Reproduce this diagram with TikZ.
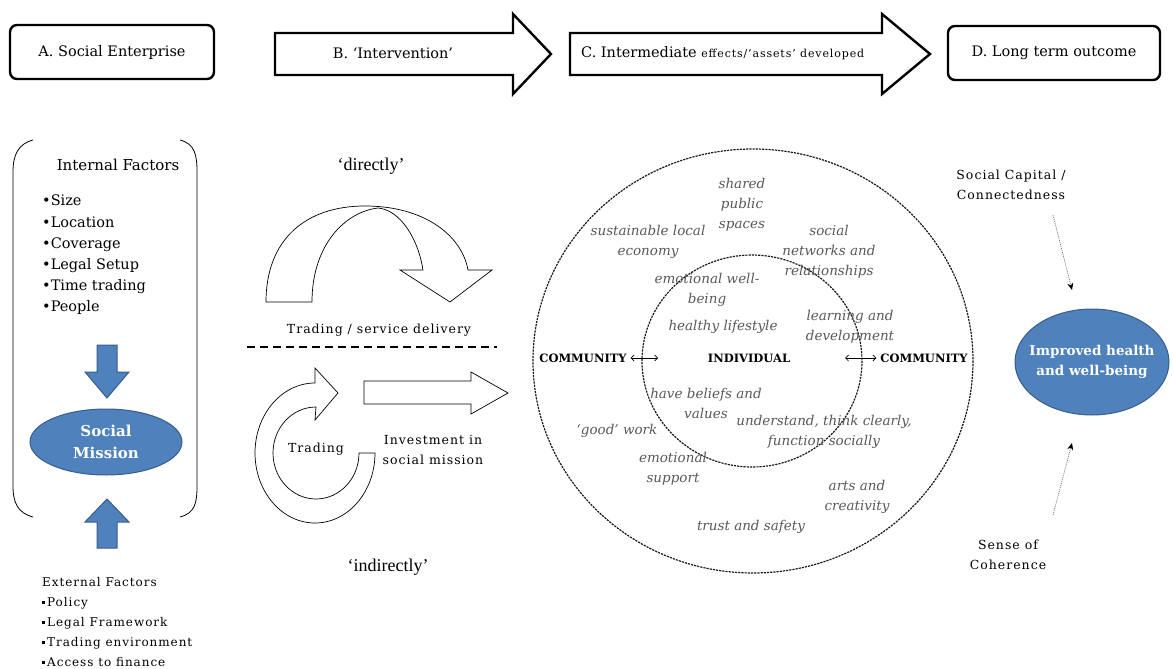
\documentclass[tikz,border=0pt]{standalone}
\usepackage{fontspec}
\setmainfont{DejaVu Serif}
\newfontfamily\timesfont{Liberation Serif}
\newfontfamily\spacedfont[LetterSpace=8]{DejaVu Serif}
\usetikzlibrary{arrows.meta,shapes.geometric}

\definecolor{missionblue}{RGB}{79,129,189}
\definecolor{missionedge}{RGB}{56,93,138}
\definecolor{assetgrey}{RGB}{89,89,89}

% small square bullet of the external factors
\newcommand{\sqb}{\raisebox{0.3ex}{\rule{3pt}{3pt}}\,}

\tikzset{
  hdrbox/.style={draw, line width=2.4pt, rounded corners=7pt, font=\fontsize{14.5}{16}\selectfont},
  hdrarrow/.style={draw, line width=2.4pt, fill=white},
  hollow/.style={draw, line width=0.7pt, fill=white},
  bluearrow/.style={fill=missionblue, draw=missionedge, line width=1pt},
  mission/.style={ellipse, fill=missionblue, draw=missionedge, line width=1pt},
  missiontext/.style={text=white, align=center, inner sep=0pt},
  lbl/.style={font=\spacedfont\fontsize{12.5}{20}\selectfont, align=center, inner sep=0pt},
  asset/.style={text=assetgrey, font=\itshape\fontsize{13.5}{20}\selectfont, align=center, inner sep=0pt},
  level/.style={font=\bfseries\fontsize{11.5}{13}\selectfont, inner sep=0pt, outer sep=4pt},
  ring/.style={draw=black!90, line width=1.2pt, dash pattern=on 2.2pt off 1pt},
  link/.style={draw=black!55, line width=0.7pt, dash pattern=on 1pt off 1pt, -{Stealth[black, length=7pt, width=6pt]}},
  twoway/.style={line width=0.7pt, {Straight Barb[length=3pt]}-{Straight Barb[length=3pt]}}
}

\begin{document}
\begin{tikzpicture}[x=1pt, y=-1pt]
  \useasboundingbox (0,0) rectangle (1173,669);

  % header row
  \node[hdrbox, minimum width=204, minimum height=54] (boxA) at (112,52) {A. Social Enterprise};
  \draw[hdrarrow] (275,33) -- (513,33) -- (513,14) -- (551,54) -- (513,94) -- (513,75) -- (275,75) -- cycle;
  \node[font=\fontsize{14.5}{16}\selectfont] (labelB) at (393,53) {B. ‘Intervention’};
  \draw[hdrarrow] (570,33) -- (882,33) -- (882,14) -- (930,54) -- (882,94) -- (882,75) -- (570,75) -- cycle;
  \node[anchor=west, inner sep=0pt] (labelC) at (581,53)
    {\fontsize{14.5}{16}\selectfont C. Intermediate {\spacedfont\fontsize{11}{16}\selectfont effects/‘assets’ developed}};
  \node[hdrbox, minimum width=212, minimum height=54] (boxD) at (1054,53) {D. Long term outcome};

  % social enterprise
  \draw[line width=0.8pt] (33,140) .. controls (18,144) and (13,155) .. (13,172) -- (13,486)
    .. controls (13,503) and (18,513) .. (33,517);
  \draw[line width=0.8pt] (180,140) .. controls (195,144) and (197,155) .. (197,172) -- (197,486)
    .. controls (197,503) and (195,513) .. (180,517);
  \node[font=\fontsize{15}{16}\selectfont] (internal) at (118,165) {Internal Factors};
  \node[font=\fontsize{14.5}{21.2}\selectfont, align=left, anchor=north west, inner sep=0pt] (intlist) at (42,195)
    {•Size\\•Location\\•Coverage\\•Legal Setup\\•Time trading\\•People};
  \draw[bluearrow] (97,345) -- (117,345) -- (117,372) -- (129,372) -- (107,398) -- (85,372) -- (97,372) -- cycle;
  \node[mission, minimum width=152, minimum height=66] (mission) at (106,442) {};
  \node[missiontext, font=\bfseries\fontsize{15}{22}\selectfont] (missionlabel) at (mission) {Social\\Mission};
  \draw[bluearrow] (107,499) -- (129,522) -- (117,522) -- (117,548) -- (97,548) -- (97,522) -- (85,522) -- cycle;
  \node[font=\spacedfont\fontsize{12}{20}\selectfont, align=left, anchor=north west, inner sep=0pt] (external) at (42,577)
    {External Factors\\\sqb Policy\\\sqb Legal Framework\\\sqb Trading environment\\\sqb Access to finance};

  % intervention
  \node[font=\timesfont\fontsize{18}{20}\selectfont] (directly) at (371,166) {‘directly’};
  \draw[hollow] (266,302) .. controls (266,240) and (305,206) .. (365,206)
    .. controls (425,206) and (462,236) .. (468,270) -- (492,270) -- (450,302) -- (400,270) -- (423,270)
    .. controls (418,238) and (400,210) .. (378,208) .. controls (345,212) and (312,245) .. (312,302) -- cycle;
  \node[lbl] (delivery) at (379,330) {Trading / service delivery};
  \draw[line width=1.8pt, dash pattern=on 8pt off 5pt] (247,347) -- (497,347);
  \draw[hollow] (375,453) arc[start angle=0, end angle=270, x radius=60, y radius=70]
    -- (315,368) -- (338,393) -- (315,420) -- (316,407)
    arc[start angle=270, end angle=0, x radius=43, y radius=46] -- cycle;
  \draw[hollow] (364,381) -- (471,381) -- (471,372) -- (508,393) -- (471,414) -- (471,404) -- (364,404) -- cycle;
  \node[lbl] (trading) at (316,449) {Trading};
  \node[lbl] (investment) at (433,450) {Investment in\\social mission};
  \node[font=\timesfont\fontsize{18}{20}\selectfont] (indirectly) at (388,567) {‘indirectly’};

  % assets
  \draw[ring] (753,361) ellipse [x radius=220, y radius=212];
  \draw[ring] (752,361) ellipse [x radius=110, y radius=106];
  \node[level] (commleft) at (583,358) {COMMUNITY};
  \node[level] (individual) at (749,358) {INDIVIDUAL};
  \node[level] (commright) at (924,358) {COMMUNITY};
  \coordinate (innerL) at (658,358);
  \coordinate (innerR) at (845,358);
  \draw[twoway] (commleft.east) -- (innerL);
  \draw[twoway] (innerR) -- (commright.west);
  \node[asset] (shared) at (742,205) {shared\\public\\spaces};
  \node[asset] (economy) at (648,242) {sustainable local\\economy};
  \node[asset] (networks) at (829,252) {social\\networks and\\relationships};
  \node[asset] (emowell) at (707,290) {emotional well-\\being};
  \node[asset] (lifestyle) at (723,327) {healthy lifestyle};
  \node[asset] (learning) at (850,327) {learning and\\development};
  \node[asset] (beliefs) at (706,403) {have beliefs and\\values};
  \node[asset] (understand) at (824,432) {understand, think clearly,\\function socially};
  \node[asset] (goodwork) at (617,431) {‘good’ work};
  \node[asset] (support) at (673,469) {emotional\\support};
  \node[asset] (arts) at (857,497) {arts and\\creativity};
  \node[asset] (trust) at (751,527) {trust and safety};

  % outcome
  \node[lbl] (capital) at (1011,185) {Social Capital /\\Connectedness};
  \node[mission, minimum width=154, minimum height=106] (health) at (1092,362) {};
  \node[missiontext, font=\bfseries\fontsize{13.5}{20}\selectfont] (healthlabel) at (health) {Improved health\\and well-being};
  \node[lbl] (coherence) at (1008,555) {Sense of\\Coherence};
  \coordinate (capstart) at (1053,215);
  \coordinate (capend) at (1072,290);
  \coordinate (cohstart) at (1053,515);
  \coordinate (cohend) at (1072,443);
  \draw[link] (capstart) -- (capend);
  \draw[link] (cohstart) -- (cohend);
\end{tikzpicture}
\end{document}
